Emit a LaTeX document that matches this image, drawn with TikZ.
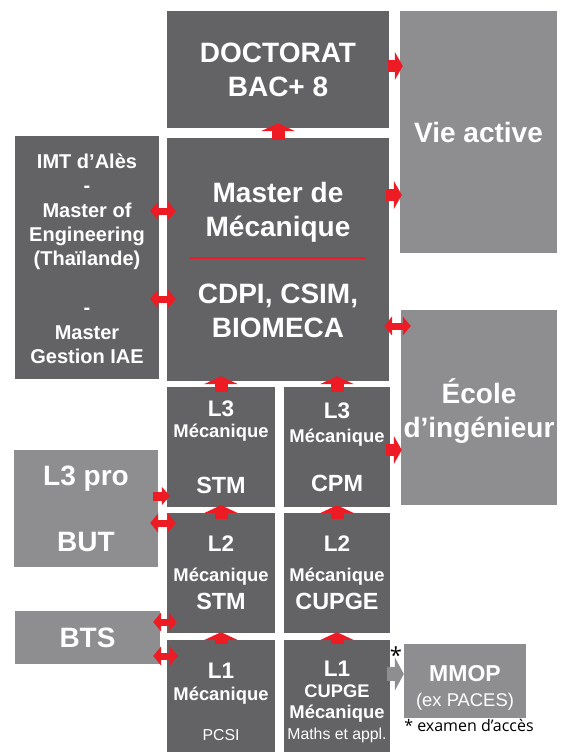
\documentclass[tikz,border=0pt]{standalone}
\usepackage{fontspec}
\setmainfont{Liberation Sans}
\newfontfamily\notefont{Open Sans}
\usetikzlibrary{arrows.meta,positioning,calc}
\definecolor{darkbox}{HTML}{636366}
\definecolor{lightbox}{HTML}{8E8E91}
\definecolor{flred}{HTML}{ED1C24}
\newcommand{\fsz}[2]{\fontsize{#1}{#2}\selectfont}
\tikzstyle{bloc}=[rectangle,fill=darkbox,text=white,align=center,inner sep=0pt]
\tikzstyle{blocl}=[bloc,fill=lightbox]
\tikzstyle{big}=[font=\bfseries\fsz{28}{34}]
\tikzstyle{lic}=[bloc,minimum width=108pt,minimum height=120pt,font=\bfseries\fsz{18.4}{21}]
\tikzstyle{flup}=[draw=flred,line width=13pt,-{Triangle[width=34pt,length=8pt]}]
\tikzstyle{flright}=[draw=flred,line width=12pt,-{Triangle[width=28pt,length=8pt]}]
\tikzstyle{flsmall}=[draw=flred,line width=9pt,-{Triangle[width=18pt,length=8pt]}]
\tikzstyle{fldouble}=[draw=flred,line width=7pt,{Triangle[width=19pt,length=8pt]}-{Triangle[width=19pt,length=8pt]}]
\tikzstyle{flgray}=[draw=lightbox,line width=14pt,-{Triangle[width=33pt,length=9pt]}]

\begin{document}
\begin{tikzpicture}[x=1pt,y=-1pt]
\useasboundingbox (0,0) rectangle (565,752);
% boxes
\node[bloc,big,minimum width=222pt,minimum height=117pt] (doct) at (278,69.5) {DOCTORAT\\BAC+ 8};
\node[blocl,big,minimum width=157pt,minimum height=242pt] (vie) at (478.5,132) {Vie active};
\node[bloc,minimum width=144pt,minimum height=243pt,font=\bfseries\fsz{20}{24.4}] (imt) at (87,257.5)
  {\rule{0pt}{17pt}IMT d’Alès\\-\\Master of\\Engineering\\(Thaïlande)\\[24.4pt]-\\Master\\Gestion IAE};
\node[bloc,big,minimum width=222pt,minimum height=243pt] (master) at (278,259.5)
  {Master de\\Mécanique\\[33pt]CDPI, CSIM,\\BIOMECA};
\node[blocl,big,minimum width=156pt,minimum height=195pt] (ecole) at (479,407.5) {\rule{0pt}{32pt}École\\d’ingénieur};
\node[lic] (l3stm) at (221,447) {{\fsz{22.5}{21}L3}\\Mécanique\\[35pt]{\fsz{23.4}{21}STM}};
\node[lic,minimum width=106pt] (l3cpm) at (337,447) {{\fsz{22.5}{21}L3}\\[3pt]Mécanique\\[28pt]{\fsz{23.4}{21}CPM}};
\node[blocl,big,minimum width=144pt,minimum height=117pt] (l3pro) at (86,508.5) {L3 pro\\[32pt]BUT};
\node[lic] (l2stm) at (221,573) {{\fsz{22.5}{21}L2}\\[9pt]Mécanique\\[7pt]{\fsz{23.4}{21}STM}};
\node[lic,minimum width=106pt] (l2cupge) at (337,573) {{\fsz{22.5}{21}L2}\\[9pt]Mécanique\\[7pt]{\fsz{23.4}{21}CUPGE}};
\node[blocl,big,minimum width=145pt,minimum height=53pt] (bts) at (87.5,637.5) {BTS};
\node[lic,minimum height=124pt] (l1meca) at (221,702) {{\fsz{22.5}{21}L1}\\[1pt]Mécanique\\[19pt]{\mdseries\fsz{15.8}{21}PCSI}};
\node[lic,minimum width=106pt,minimum height=124pt] (l1cupge) at (337,702)
  {{\fsz{22.5}{21}L1}\\{\fsz{18.3}{21}CUPGE}\\Mécanique\\{\mdseries\fsz{15.8}{21}Maths et appl.}};
\node[blocl,minimum width=122pt,minimum height=74pt,font=\fsz{18.4}{25}] (mmop) at (465,681)
  {{\bfseries\fsz{23}{25}\rule{0pt}{29pt}MMOP}\\(ex PACES)};
\node[font=\notefont\fsz{22}{22},inner sep=0pt] (ast) at (396,655) {*};
\node[font=\notefont\fsz{16}{19},inner sep=0pt] (note) at (469,725) {* examen d’accès};
\draw[flred,line width=2.5pt] ($(master.west)+(23,-1.5)$) -- ($(master.east)+(-23,-1.5)$);
% arrows
\draw[flup] ($(master.north)+(0,2)$) -- ($(doct.south)+(0,-5)$);
\draw[flright] ($(doct.east)+(-1,-3.5)$) -- ($(doct.east -| vie.west)+(3,-3.5)$);
\draw[flright] ($(master.east)+(-3,-64.5)$) -- ($(master.east -| vie.west)+(2,-64.5)$);
\draw[fldouble] ($(imt.east)+(-9,-46.5)$) -- ($(imt.east -| master.west)+(9,-46.5)$);
\draw[fldouble] ($(imt.east)+(-9,41.5)$) -- ($(imt.east -| master.west)+(9,41.5)$);
\draw[fldouble] ($(master.east)+(-5,66.5)$) -- ($(master.east -| ecole.west)+(10,66.5)$);
\draw[flup] ($(l3stm.north)+(0,5)$) -- ($(l3stm.north |- master.south)+(0,-5)$);
\draw[flup] ($(l3cpm.north)+(0,5)$) -- ($(l3cpm.north |- master.south)+(0,-5)$);
\draw[flright] ($(l3cpm.east)+(-4,3)$) -- ($(l3cpm.east -| ecole.west)+(1,3)$);
\draw[flsmall] ($(l3pro.east)+(-5,-12.5)$) -- ($(l3pro.east -| l3stm.west)+(3,-12.5)$);
\draw[fldouble] ($(l3pro.east)+(-8,14.5)$) -- ($(l3pro.east -| l2stm.west)+(9,14.5)$);
\draw[flup] ($(l2stm.north)+(0,6)$) -- ($(l3stm.south)+(0,-2)$);
\draw[flup] ($(l2cupge.north)+(0,6)$) -- ($(l3cpm.south)+(0,-2)$);
\draw[fldouble] ($(bts.east)+(-7,-15.5)$) -- ($(bts.east -| l2stm.west)+(10,-15.5)$);
\draw[fldouble] ($(bts.east)+(-7,18.5)$) -- ($(bts.east -| l1meca.west)+(11,18.5)$);
\draw[flup] ($(l1meca.north)+(0,4)$) -- ($(l2stm.south)+(0,-1)$);
\draw[flup] ($(l1cupge.north)+(0,4)$) -- ($(l2cupge.south)+(0,-1)$);
\draw[flgray] ($(l1cupge.east)+(-3,-28)$) -- ($(l1cupge.east -| mmop.west)+(0,-28)$);
\end{tikzpicture}
\end{document}
